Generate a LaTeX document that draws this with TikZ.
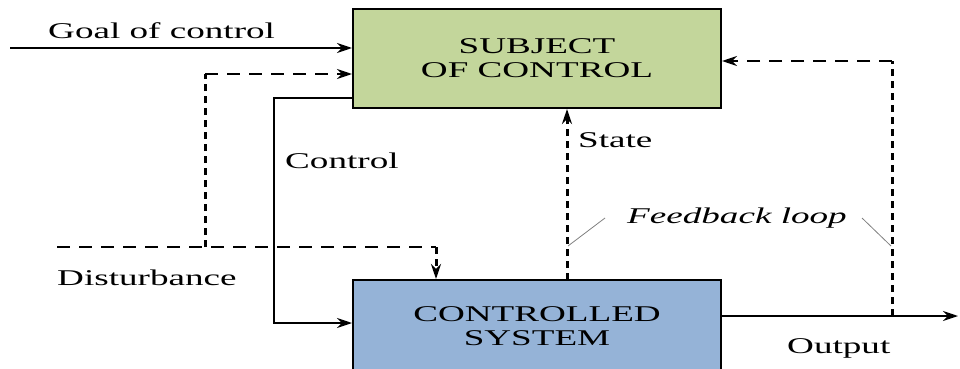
\documentclass[tikz,border=0pt]{standalone}
\usepackage{fontspec}
\setmainfont[FakeStretch=1.65]{Liberation Serif}
\usetikzlibrary{arrows.meta}
\definecolor{subjgreen}{HTML}{C3D69B}
\definecolor{sysblue}{HTML}{95B3D7}
\tikzset{
  box/.style={draw=black, line width=2pt, minimum width=368pt, align=center,
    font=\fontsize{22.5}{24}\selectfont, inner sep=0pt},
  lbl/.style={anchor=base west, inner sep=0pt, font=\fontsize{22.5}{24}\selectfont},
  arr/.style={-{Stealth[length=15pt,width=10pt,inset=5pt]}},
  solidline/.style={line width=2pt},
  hdash/.style={line width=2pt, dash pattern=on 13pt off 9pt},
  vdash/.style={line width=3pt, dash pattern=on 7pt off 5pt},
  thin gray/.style={draw=gray, line width=0.8pt}
}
\begin{document}
\begin{tikzpicture}[x=1pt,y=-1pt]
\useasboundingbox (0,0) rectangle (960,369);
% boxes
\node[box, fill=subjgreen, minimum height=99pt] (subj) at (537,58.5) {SUBJECT\\OF CONTROL};
\node[box, fill=sysblue, minimum height=92pt] (ctrl) at (537,326) {CONTROLLED\\SYSTEM};
% goal of control
\coordinate (gs) at (10,48);
\draw[solidline, arr] (gs) -- (gs -| subj.west);
\node[lbl] (goal) at (48,38) {Goal of control};
% disturbance
\coordinate (ds) at (57,247);
\coordinate (dk) at (436,247);
\coordinate (db) at (205,247);
\coordinate (dt) at (205,74);
\draw[hdash] (ds) -- (dk);
\draw[vdash, arr] (dk) -- (dk |- ctrl.north);
\draw[vdash] (db) -- (dt);
\draw[hdash, arr] (dt) -- (dt -| subj.west);
\node[lbl] (dist) at (57,285) {Disturbance};
% control
\coordinate (c0) at (353,98);
\coordinate (c1) at (274,98);
\coordinate (c2) at (274,323);
\draw[solidline, arr] (c0) -- (c1) -- (c2) -- (c2 -| ctrl.west);
\node[lbl] (control) at (285,168) {Control};
% state
\coordinate (s0) at (567,280);
\draw[vdash, arr] (s0) -- (s0 |- subj.south);
\node[lbl] (state) at (578,147) {State};
% output
\coordinate (o0) at (721,316);
\coordinate (o1) at (958,316);
\draw[solidline, arr] (o0) -- (o1);
\node[lbl] (output) at (787,353) {Output};
% feedback
\coordinate (f0) at (892,316);
\coordinate (f1) at (892,61);
\draw[vdash] (f0) -- (f1);
\draw[hdash, arr] (f1) -- (f1 -| subj.east);
\node[lbl, font=\fontsize{22.5}{24}\selectfont\itshape] (fb) at (627,223) {Feedback loop};
% leader lines
\coordinate (l0) at (605,218);
\coordinate (l1) at (568,246);
\coordinate (r0) at (862,218);
\coordinate (r1) at (891,246);
\draw[thin gray] (l0) -- (l1);
\draw[thin gray] (r0) -- (r1);
\end{tikzpicture}
\end{document}
